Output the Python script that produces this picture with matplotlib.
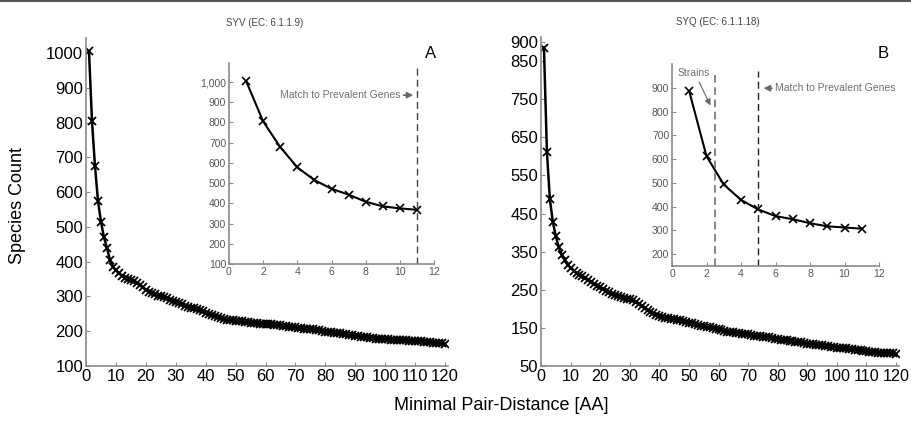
import matplotlib
matplotlib.use("Agg")
import matplotlib.pyplot as plt
from matplotlib.lines import Line2D
from matplotlib.ticker import FuncFormatter

plt.rcParams['font.family'] = ['Liberation Sans', 'DejaVu Sans']

# ---- data ----
dist = list(range(1, 121))
syv_counts = [1005, 805, 675, 575, 515, 470, 440, 405, 385, 375,
              366, 360, 354, 350, 347, 344, 340, 334, 326, 318,
              313, 310, 306, 302, 300, 298, 295, 291, 287, 283,
              280, 277, 273, 270, 268, 266, 263, 260, 257, 252,
              250, 247, 244, 240, 237, 234, 233, 232, 231, 230,
              229, 228, 227, 226, 225, 224, 223, 222, 222, 221,
              221, 220, 219, 218, 217, 216, 214, 213, 212, 211,
              209, 208, 207, 206, 206, 205, 204, 203, 201, 199,
              198, 197, 196, 195, 194, 192, 191, 189, 188, 187,
              186, 184, 183, 182, 181, 180, 179, 179, 178, 177,
              177, 176, 176, 175, 175, 174, 174, 173, 173, 172,
              172, 171, 170, 169, 168, 167, 166, 166, 165, 164]
syq_counts = [885, 612, 487, 428, 390, 362, 342, 328, 315, 308,
              300, 294, 289, 285, 280, 276, 271, 266, 261, 256,
              252, 248, 244, 240, 236, 233, 231, 229, 227, 225,
              222, 218, 213, 208, 203, 197, 192, 188, 184, 181,
              178, 176, 175, 174, 173, 171, 170, 168, 166, 164,
              162, 160, 158, 156, 154, 152, 151, 150, 148, 146,
              144, 142, 140, 139, 138, 137, 136, 135, 134, 133,
              132, 130, 129, 128, 127, 126, 125, 123, 122, 120,
              119, 118, 117, 116, 115, 114, 113, 112, 110, 109,
              108, 107, 106, 105, 104, 103, 102, 101, 100, 98,
              97, 96, 96, 95, 94, 93, 92, 91, 90, 89,
              87, 86, 86, 85, 85, 84, 84, 83, 83, 82]
inset_dist = list(range(1, 12))
syv_inset = [1005, 805, 678, 578, 515, 472, 443, 408, 385, 375, 368]
syq_inset = [885, 612, 493, 428, 388, 360, 347, 330, 317, 312, 307]

main_xticks = list(range(0, 121, 10))
syv_yticks = list(range(100, 1001, 100))
syq_yticks = [50, 150, 250, 350, 450, 550, 650, 750, 850, 900]
inset_xticks = list(range(0, 13, 2))
syv_inset_yticks = list(range(100, 1001, 100))
syq_inset_yticks = list(range(200, 901, 100))

W, H = 911, 422
fig = plt.figure(figsize=(W / 100, H / 100), dpi=100)

SPINE = '#8a8a8a'

def style(ax, fs, lc):
    for s in ['top', 'right']:
        ax.spines[s].set_visible(False)
    for s in ['left', 'bottom']:
        ax.spines[s].set_color(SPINE)
        ax.spines[s].set_linewidth(1.2)
    ax.tick_params(direction='in', length=3, width=0.8, color=SPINE,
                   labelsize=fs, labelcolor=lc, pad=2)

def fa(l, b, r, t):
    return [l / W, 1 - b / H, (r - l) / W, (b - t) / H]

# ---- main A ----
axA = fig.add_axes(fa(86, 366, 448, 38))
axA.plot(dist, syv_counts, color='black', lw=1.8, marker='x', ms=6, mew=1.3)
axA.set_xlim(0, 121)
axA.set_ylim(100, 1043)
axA.set_xticks(main_xticks)
axA.set_yticks(syv_yticks)
style(axA, 12, 'black')

# ---- main B ----
axB = fig.add_axes(fa(541, 366, 899, 37))
axB.plot(dist, syq_counts, color='black', lw=1.8, marker='x', ms=6, mew=1.3)
axB.set_xlim(0, 121)
axB.set_ylim(50, 913)
axB.set_xticks(main_xticks)
axB.set_yticks(syq_yticks)
style(axB, 12, 'black')
axB.tick_params(axis='x', labelsize=11.6)

fig.text(18 / W, 1 - 205 / H, 'Species Count', fontsize=13, rotation=90,
         ha='center', va='center')
fig.text(501 / W, 1 - 406 / H, 'Minimal Pair-Distance [AA]', fontsize=13,
         ha='center', va='center')
fig.text(265 / W, 1 - 23 / H, 'SYV (EC: 6.1.1.9)', fontsize=7, color='#444444',
         ha='center', va='center')
fig.text(718 / W, 1 - 22 / H, 'SYQ (EC: 6.1.1.18)', fontsize=7, color='#444444',
         ha='center', va='center')
fig.text(431 / W, 1 - 54 / H, 'A', fontsize=12, ha='center', va='center')
fig.text(883 / W, 1 - 53 / H, 'B', fontsize=12, ha='center', va='center')

# ---- inset A ----
iA = fig.add_axes(fa(229, 264, 434, 63))
iA.plot(inset_dist, syv_inset, color='black', lw=1.5, marker='x', ms=5.5, mew=1.2)
iA.set_xlim(0, 12)
iA.set_ylim(100, 1094)
iA.set_xticks(inset_xticks)
iA.set_yticks(syv_inset_yticks)
iA.yaxis.set_major_formatter(FuncFormatter(lambda v, p: f'{int(v):,}'))
style(iA, 7.5, '#555555')
iA.vlines(11, 100, 1070, colors='#444444', linestyles=(0, (5, 3)), lw=1)
iA.annotate('', xy=(10.95, 935), xytext=(10.05, 935),
            arrowprops=dict(arrowstyle='-|>', color='#666666', lw=1.2,
                            mutation_scale=9))
iA.text(10.05, 935, 'Match to Prevalent Genes', fontsize=7.5, color='#707070',
        ha='right', va='center')

# ---- inset B ----
iB = fig.add_axes(fa(672, 266, 879, 64))
iB.plot(inset_dist, syq_inset, color='black', lw=1.5, marker='x', ms=5.5, mew=1.2)
iB.set_xlim(0, 12)
iB.set_ylim(150, 1000)
iB.set_xticks(inset_xticks)
iB.set_yticks(syq_inset_yticks)
style(iB, 7.5, '#555555')
iB.vlines(2.5, 150, 970, colors='#666666', linestyles=(0, (5, 3)), lw=1.1)
iB.vlines(5, 150, 970, colors='#222222', linestyles=(0, (5, 3)), lw=1)
iB.text(0.3, 985, 'Strains', fontsize=7.5, color='#707070', ha='left', va='top')
iB.annotate('', xy=(2.3, 815), xytext=(1.5, 935),
            arrowprops=dict(arrowstyle='-|>', color='#666666', lw=0.8,
                            mutation_scale=9))
iB.annotate('', xy=(5.15, 898), xytext=(5.95, 898),
            arrowprops=dict(arrowstyle='-|>', color='#666666', lw=1.2,
                            mutation_scale=9))
iB.text(5.95, 898, 'Match to Prevalent Genes', fontsize=7.5, color='#707070',
        ha='left', va='center')

# top border line
fig.add_artist(Line2D([0, 1], [1 - 1 / H, 1 - 1 / H], color='#555555', lw=1.5,
                      transform=fig.transFigure))

fig.savefig('out.png', dpi=100)
